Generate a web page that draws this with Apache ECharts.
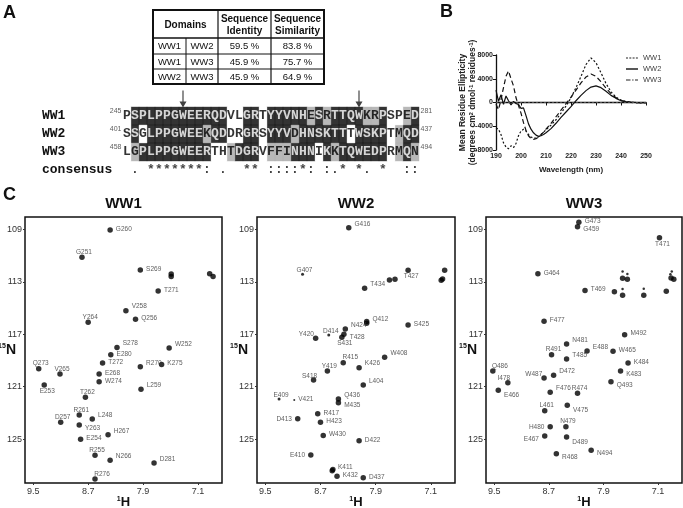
<!DOCTYPE html>
<html>
<head>
<meta charset="utf-8">
<script src="https://cdn.jsdelivr.net/npm/echarts@6/dist/echarts.min.js"></script>
<style>
  html, body { margin: 0; padding: 0; background: #fff; }
  #chart { width: 683px; height: 508px; }
</style>
</head>
<body>
<div id="chart"></div>
<script>
const SANS = '"Liberation Sans", Arial, sans-serif';
const MONO = '"Liberation Mono", "Courier New", monospace';

// ---- panel A: identity table
const tableHead = ['Domains', 'Sequence\nIdentity', 'Sequence\nSimilarity'];
const domainPairs = [['WW1', 'WW2'], ['WW1', 'WW3'], ['WW2', 'WW3']];
const seqIdentity = ['59.5 %', '45.9 %', '45.9 %'];
const seqSimilarity = ['83.8 %', '75.7 %', '64.9 %'];

// ---- panel A: alignment
const alignNames = ['WW1', 'WW2', 'WW3'];
const alignStart = [245, 401, 458];
const alignEnd = [281, 437, 494];
const alignSeqs = [
  'PSPLPPGWEERQDVLGRTYYVNHESRTTQWKRPSPED',
  'SSGLPPGWEEKQDDRGRSYYVDHNSKTTTWSKPTMQD',
  'LGPLPPGWEERTHTDGRVFFINHNIKKTQWEDPRMQN',
];
// i = identical, s = similar, - = neither
const alignClass = [
  '-iiiiiiiii' + 'iii--ii-ii' + 'iiisisiiii' + 'ssi--si',
  '-i-iiiiiii' + 'sii--ii-ii' + 'isiiiiii-i' + 'iii-sii',
  '-siiiiiiii' + 'i--siii-ss' + 'siii-isiii' + 'iii-sis',
];
const consensus = ' . *******: .  ** ::::*: :.* *. *  ::';
const arrowCols = [7, 29];

// ---- panel B: CD spectra
const wavelength = [190, 191, 192, 193, 194, 195, 196, 197, 198, 199, 200, 201, 202, 203, 204, 205, 206, 207, 208, 209, 210,
  212, 214, 216, 218, 220, 222, 224, 226, 228, 230, 232, 234, 236, 238, 240, 242, 244, 246, 248, 250];
const cdWW1 = [-4300, -4500, -5400, -6800, -7500, -7800, -7300, -7600, -6900, -5600, -4800, -4500, -4800, -5400, -5800, -6000, -6000, -5800, -5400, -5000, -4600,
  -3800, -2900, -1800, -600, 800, 2500, 4400, 6400, 7500, 6700, 5000, 3200, 1800, 900, 400, 150, 50, 0, -50, 0];
const cdWW2 = [2100, 200, 1300, -300, 1100, 300, -400, 200, -200, -300, -1000, -900, -2200, -3600, -4500, -5100, -5500, -5700, -5600, -5400, -5100,
  -4400, -3500, -2500, -1600, -700, 300, 1200, 2000, 2600, 2800, 2500, 1900, 1200, 700, 300, 150, 50, 0, -50, 0];
const cdWW3 = [-300, -1200, 500, 2500, 4400, 5300, 4000, 2800, 800, -500, -1800, -3400, -4700, -5600, -6100, -6200, -6100, -5800, -5400, -5000, -4500,
  -3500, -2400, -1300, -200, 900, 2100, 3300, 4300, 4800, 4400, 3500, 2400, 1500, 800, 350, 100, 0, -50, 0, -50];

// ---- panel C: HSQC peaks [name, 1H ppm, 15N ppm]
const hTicks = [9.5, 8.7, 7.9, 7.1];
const nTicks = [109, 113, 117, 121, 125];
const ww1Peaks = [
  ['G260', 8.38, 109.04], ['G251', 8.79, 111.13], ['S269', 7.94, 112.10],
  ['', 7.49, 112.40], ['', 7.49, 112.60], ['', 6.93, 112.38], ['', 6.88, 112.60],
  ['T271', 7.68, 113.70], ['V258', 8.15, 115.20], ['Q256', 8.01, 115.86], ['Y264', 8.70, 116.09],
  ['S278', 8.28, 118.00], ['W252', 7.52, 118.05], ['E280', 8.37, 118.56], ['T272', 8.49, 119.20],
  ['Q273', 9.42, 119.63], ['V265', 9.11, 120.04], ['R270', 7.94, 119.48], ['K275', 7.63, 119.30],
  ['E268', 8.54, 120.04], ['W274', 8.54, 120.62], ['E253', 9.34, 120.87], ['L259', 7.93, 121.20],
  ['T262', 8.74, 121.81], ['R261', 8.83, 123.17], ['L248', 8.64, 123.47], ['D257', 9.10, 123.72],
  ['Y263', 8.83, 123.93], ['H267', 8.41, 124.67], ['E254', 8.81, 125.02], ['R255', 8.60, 126.24],
  ['N266', 8.38, 126.62], ['D281', 7.74, 126.83], ['R276', 8.60, 128.05],
];
const ww2Peaks = [
  ['G416', 8.29, 108.87], ['G407', 8.96, 112.42], ['T434', 8.06, 113.49],
  ['', 7.70, 112.86], ['', 7.62, 112.80], ['T427', 7.43, 112.12],
  ['', 6.90, 112.12], ['', 6.95, 112.88], ['', 6.93, 112.78],
  ['Q412', 8.03, 116.16], ['', 8.03, 116.02], ['S425', 7.43, 116.29], ['N424', 8.34, 116.60],
  ['D414', 8.58, 117.06], ['T428', 8.36, 117.00], ['S431', 8.39, 117.23], ['Y420', 8.77, 117.31],
  ['W408', 7.77, 118.76], ['R415', 8.37, 119.17], ['K426', 8.14, 119.55], ['Y419', 8.60, 119.81],
  ['S418', 8.80, 120.49], ['L404', 8.08, 120.87], ['E409', 9.30, 121.94], ['V421', 9.08, 122.02],
  ['Q436', 8.44, 121.94], ['M435', 8.44, 122.22], ['R417', 8.74, 123.07], ['D413', 9.03, 123.45],
  ['H423', 8.70, 123.72], ['W430', 8.66, 124.72], ['D422', 8.14, 125.13], ['E410', 8.84, 126.22],
  ['K411', 8.53, 127.42], ['', 8.52, 127.32], ['K432', 8.46, 127.84], ['D437', 8.08, 127.95],
];
const ww3Peaks = [
  ['G473', 8.26, 108.45], ['G459', 8.28, 108.79], ['T471', 7.08, 109.63],
  ['G464', 8.86, 112.38], ['T469', 8.17, 113.65],
  ['', 7.74, 113.75], ['', 7.62, 112.73], ['', 7.55, 112.80], ['', 7.62, 114.03],
  ['', 7.31, 114.03], ['', 6.98, 113.72], ['', 6.91, 112.71], ['', 6.87, 112.80],
  ['F477', 8.77, 116.01], ['M492', 7.59, 117.03], ['N481', 8.44, 117.74], ['R491', 8.66, 118.56],
  ['E488', 8.14, 118.28], ['W465', 7.76, 118.30], ['T485', 8.44, 118.89], ['K484', 7.54, 119.20],
  ['Q486', 9.52, 119.81], ['K483', 7.65, 119.81], ['W487', 8.77, 120.34], ['D472', 8.63, 120.13],
  ['I478', 9.30, 120.70], ['Q493', 7.79, 120.62], ['E466', 9.44, 121.28], ['F476', 8.68, 121.43],
  ['R474', 8.28, 121.51], ['L461', 8.76, 122.84], ['V475', 8.43, 122.42], ['N479', 8.45, 124.06],
  ['H480', 8.68, 124.06], ['E467', 8.76, 124.77], ['D489', 8.44, 124.84], ['N494', 8.08, 125.86],
  ['R468', 8.59, 126.12],
];
const ww3Weak = [[7.62, 112.20], [7.55, 112.40], [7.62, 113.55], [7.31, 113.52], [6.90, 112.20], [6.92, 112.42]];
const weakPeaks = ['G407', 'D414', 'E409', 'V421'];

// label placement per residue (style only)
const labelPlace = {
  G260: 'r', G251: 'a', S269: 'r', T271: 'r', V258: 'ra', Q256: 'r', Y264: 'a', S278: 'ra', W252: 'ra',
  E280: 'r', T272: 'r', Q273: 'a', V265: 'a', R270: 'ra', K275: 'r', E268: 'r', W274: 'r', E253: 'b',
  L259: 'ra', T262: 'a', R261: 'a', L248: 'ra', D257: 'a', Y263: 'rb', H267: 'ra', E254: 'r', R255: 'a',
  N266: 'ra', D281: 'ra', R276: 'ar',
  G416: 'ra', G407: 'a', T434: 'ra', T427: 'b', Q412: 'ra', S425: 'r', N424: 'ra', D414: 'a', T428: 'rb',
  S431: 'b', Y420: 'la', W408: 'ra', R415: 'ar', K426: 'ra', Y419: 'a', S418: 'al', L404: 'ra', E409: 'a',
  V421: 'r', Q436: 'ra', M435: 'rb', R417: 'r', D413: 'l', H423: 'r', W430: 'r', D422: 'r', E410: 'l',
  K411: 'ra', K432: 'r', D437: 'r',
  G473: 'r', G459: 'rb', T471: 'b', G464: 'r', T469: 'r', F477: 'r', M492: 'r', N481: 'ra', R491: 'a',
  E488: 'ra', W465: 'r', T485: 'ra', K484: 'r', Q486: 'ar', K483: 'rb', W487: 'la', D472: 'ra', I478: 'al',
  Q493: 'rb', E466: 'rbb', F476: 'ra', R474: 'a', L461: 'a', V475: 'rbb', N479: 'a', H480: 'l', E467: 'lb',
  D489: 'rbb', N494: 'rb', R468: 'rb',
};
const placeOpts = {
  r: { position: 'right', distance: 3, offset: [0, -1] },
  ra: { position: 'right', distance: 3, offset: [0, -4] },
  rb: { position: 'right', distance: 3, offset: [0, 3] },
  rbb: { position: 'right', distance: 3, offset: [0, 5] },
  a: { position: 'top', distance: 0, offset: [2, 1] },
  ar: { position: 'top', distance: 0, offset: [7, 1] },
  al: { position: 'top', distance: 0, offset: [-4, 2] },
  b: { position: 'bottom', distance: 0, offset: [3, 0] },
  l: { position: 'left', distance: 3, offset: [0, 0] },
  la: { position: 'left', distance: 1, offset: [2, -4] },
  lb: { position: 'left', distance: 3, offset: [0, 3] },
};
const peakLabelText = { color: '#333', fontSize: 6.5, fontFamily: SANS };

const chart = echarts.init(document.getElementById('chart'));

// alignment cells grouped by conservation class
function cellsOf(cls) {
  const out = [];
  alignSeqs.forEach((seq, r) => {
    for (let k = 0; k < seq.length; k++) {
      if (alignClass[r][k] === cls) out.push({ value: [k, alignNames[r]], name: seq[k] });
    }
  });
  return out;
}
const cellStyle = {
  i: { fill: '#000', text: '#fff' },
  s: { fill: '#a6a6a6', text: '#000' },
  '-': { fill: '#fff', text: '#000' },
};
const cellSeries = Object.keys(cellStyle).map((cls) => ({
  name: 'cells-' + cls,
  type: 'scatter',
  xAxisIndex: 0,
  yAxisIndex: 0,
  symbol: 'rect',
  symbolSize: [8.4, 18.4],
  itemStyle: { color: cellStyle[cls].fill },
  label: {
    show: true, position: 'inside', formatter: '{b}', color: cellStyle[cls].text,
    fontFamily: MONO, fontWeight: 'bold', fontSize: 13,
  },
  silent: true,
  data: cellsOf(cls),
}));

const consensusData = [];
for (let k = 0; k < consensus.length; k++) {
  if (consensus[k] !== ' ') consensusData.push({ value: [k, 'consensus'], name: consensus[k] });
}

function peakSeries(peaks, idx, extraSmall) {
  const data = peaks.map(([name, h, n]) => {
    const item = { value: [h, n], name };
    if (weakPeaks.includes(name)) item.symbolSize = name === 'V421' ? 2 : 3;
    if (name && labelPlace[name]) item.label = Object.assign({ show: true, formatter: '{b}' }, peakLabelText, placeOpts[labelPlace[name]]);
    else item.label = { show: false };
    return item;
  });
  (extraSmall || []).forEach(([h, n]) => data.push({ value: [h, n], name: '', symbolSize: 2.5, label: { show: false } }));
  return {
    name: 'hsqc-' + idx,
    type: 'scatter',
    xAxisIndex: idx + 2,
    yAxisIndex: idx + 2,
    symbolSize: 5.5,
    itemStyle: { color: '#000' },
    label: Object.assign({ formatter: '{b}' }, peakLabelText),
    silent: true,
    data,
  };
}

const hsqcGrids = [
  { left: 25, top: 217, width: 197, height: 266 },
  { left: 257, top: 217, width: 198, height: 266 },
  { left: 486, top: 217, width: 196, height: 266 },
];

const hsqcX = hsqcGrids.map((g, i) => ({
  type: 'value', gridIndex: i + 2, inverse: true, min: 6.75, max: 9.62,
  axisLine: { show: false }, splitLine: { show: false },
  axisTick: { show: true, length: 2, customValues: hTicks, lineStyle: { color: '#333' } },
  axisLabel: { customValues: hTicks, formatter: (v) => v.toFixed(1), fontSize: 9, color: '#333', fontFamily: SANS, margin: 4 },
  name: '{s|1}{h|H}', nameLocation: 'middle', nameGap: 13, nameMoveOverlap: false,
  nameTextStyle: {
    rich: {
      s: { fontSize: 7, fontWeight: 'bold', fontFamily: SANS, color: '#111', padding: [0, 0, 6, 0] },
      h: { fontSize: 13, fontWeight: 'bold', fontFamily: SANS, color: '#111' },
    },
  },
}));
const hsqcY = hsqcGrids.map((g, i) => ({
  type: 'value', gridIndex: i + 2, inverse: true, min: 108.05, max: 128.35,
  axisLine: { show: false }, splitLine: { show: false },
  axisTick: { show: true, length: 2, customValues: nTicks, lineStyle: { color: '#333' } },
  axisLabel: { customValues: nTicks, fontSize: 9, color: '#333', fontFamily: SANS, margin: 3 },
  name: '{s|15}{h|N}', nameLocation: 'middle', nameRotate: 0, nameGap: 9, nameMoveOverlap: false,
  nameTextStyle: {
    rich: {
      s: { fontSize: 7, fontWeight: 'bold', fontFamily: SANS, color: '#111', padding: [0, 0, 7, 0] },
      h: { fontSize: 14, fontWeight: 'bold', fontFamily: SANS, color: '#111' },
    },
  },
}));

// table drawn as graphic elements
const tx = [153, 186, 218, 271, 324];
const ty = [10, 38, 54, 69, 84];
const tableGraphics = [
  { type: 'rect', shape: { x: tx[0], y: ty[0], width: tx[4] - tx[0], height: ty[4] - ty[0] }, style: { fill: 'none', stroke: '#111', lineWidth: 2 } },
];
[1, 2, 3].forEach((r) => tableGraphics.push({ type: 'line', shape: { x1: tx[0], y1: ty[r], x2: tx[4], y2: ty[r] }, style: { stroke: '#111', lineWidth: r === 1 ? 1.5 : 1 } }));
[2, 3].forEach((c) => tableGraphics.push({ type: 'line', shape: { x1: tx[c], y1: ty[0], x2: tx[c], y2: ty[4] }, style: { stroke: '#111', lineWidth: 1.2 } }));
tableGraphics.push({ type: 'line', shape: { x1: tx[1], y1: ty[1], x2: tx[1], y2: ty[4] }, style: { stroke: '#111', lineWidth: 1 } });
const headX = [(tx[0] + tx[2]) / 2, (tx[2] + tx[3]) / 2, (tx[3] + tx[4]) / 2];
tableHead.forEach((t, i) => tableGraphics.push({
  type: 'text', style: { text: t, x: headX[i], y: (ty[0] + ty[1]) / 2 + 1, align: 'center', verticalAlign: 'middle', fill: '#111', font: 'bold 10px ' + SANS, lineHeight: 12 },
}));
domainPairs.forEach((pair, r) => {
  const yMid = (ty[r + 1] + ty[r + 2]) / 2 + 0.5;
  const cells = [pair[0], pair[1], seqIdentity[r], seqSimilarity[r]];
  cells.forEach((t, c) => tableGraphics.push({
    type: 'text', style: { text: t, x: (tx[c] + tx[c + 1]) / 2, y: yMid, align: 'center', verticalAlign: 'middle', fill: '#111', font: '9.5px ' + SANS },
  }));
});

const letters = [['A', 3, 4], ['B', 440, 3], ['C', 3, 186]].map(([t, x, y]) => ({
  type: 'text', style: { text: t, x, y, fill: '#111', font: 'bold 18px ' + SANS },
}));
const panelTitles = ['WW1', 'WW2', 'WW3'].map((t, i) => ({
  type: 'text', style: { text: t, x: hsqcGrids[i].left + hsqcGrids[i].width / 2, y: 204, align: 'center', verticalAlign: 'middle', fill: '#111', font: 'bold 15px ' + SANS },
}));

const cdLine = (name, vals, type) => ({
  name, type: 'line', xAxisIndex: 1, yAxisIndex: 1, symbol: 'none', smooth: false,
  lineStyle: { color: '#111', width: 1.2, type },
  itemStyle: { color: '#111' },
  data: wavelength.map((w, i) => [w, vals[i]]),
});
const ww1Line = cdLine('WW1', cdWW1, [2, 2]);
ww1Line.markLine = {
  silent: true, symbol: 'none', label: { show: false },
  lineStyle: { color: '#666', type: [2, 2], width: 0.7 },
  data: [{ yAxis: 0 }],
};

// legend icons mimic each line's dash pattern (corner points fix the icon box)
const legendIcons = {
  WW1: 'path://M0,0L0.01,0Z M12,10L12.01,10Z M0,4.4h2v1.2h-2z M3.3,4.4h2v1.2h-2z M6.6,4.4h2v1.2h-2z M9.9,4.4h2v1.2h-2z',
  WW2: 'path://M0,0L0.01,0Z M12,10L12.01,10Z M0,4.3h12v1.4h-12z',
  WW3: 'path://M0,0L0.01,0Z M12,10L12.01,10Z M0,4.4h4.5v1.2h-4.5z M6.2,4.4h1.3v1.2h-1.3z M9,4.4h3v1.2h-3z',
};

const gridBase = { outerBoundsMode: 'none', containLabel: false };

const option = {
  animation: false,
  backgroundColor: '#fff',
  textStyle: { fontFamily: SANS },
  graphic: [...tableGraphics, ...letters, ...panelTitles],
  legend: {
    data: ['WW1', 'WW2', 'WW3'].map((n) => ({ name: n, icon: legendIcons[n] })),
    orient: 'vertical', left: 621, top: 48,
    itemWidth: 12, itemHeight: 10, itemGap: 1,
    itemStyle: { color: '#222', borderWidth: 0 },
    textStyle: { color: '#444', fontSize: 7.5, fontFamily: SANS },
  },
  grid: [
    Object.assign({ left: 123, top: 89, width: 296, height: 90 }, gridBase),
    Object.assign({ left: 496, top: 55, width: 150, height: 95 }, gridBase),
    ...hsqcGrids.map((g) => Object.assign({ show: true, borderColor: '#111', borderWidth: 1.5, backgroundColor: 'transparent' }, gridBase, g)),
  ],
  xAxis: [
    { type: 'category', gridIndex: 0, data: alignSeqs[0].split('').map((_, k) => k), show: false },
    {
      type: 'value', gridIndex: 1, min: 190, max: 250, interval: 10,
      axisLine: { lineStyle: { color: '#111', width: 1.3 } },
      axisTick: { length: 3, lineStyle: { color: '#111' } },
      splitLine: { show: false },
      axisLabel: { fontSize: 7, fontWeight: 'bold', color: '#222', margin: 3 },
      name: 'Wavelength (nm)', nameLocation: 'middle', nameGap: 16, nameMoveOverlap: false,
      nameTextStyle: { fontSize: 8, fontWeight: 'bold', color: '#222' },
    },
    ...hsqcX,
  ],
  yAxis: [
    {
      type: 'category', gridIndex: 0, inverse: true, data: [' ', 'WW1', 'WW2', 'WW3', 'consensus'],
      axisLine: { show: false }, axisTick: { show: false },
      axisLabel: { align: 'left', margin: 81, fontFamily: MONO, fontWeight: 'bold', fontSize: 13, color: '#111' },
    },
    {
      type: 'value', gridIndex: 1, min: -8000, max: 8000, interval: 4000,
      axisLine: { show: true, lineStyle: { color: '#111', width: 1.3 } },
      axisTick: { show: true, length: 3, lineStyle: { color: '#111' } },
      splitLine: { show: false },
      axisLabel: { fontSize: 7, fontWeight: 'bold', color: '#222', margin: 3, formatter: (v) => String(v) },
      name: 'Mean Residue Ellipticity\n(degrees cm{sup|2} dmol{sup|-1} residues{sup|-1})',
      nameLocation: 'middle', nameGap: 18, nameMoveOverlap: false,
      nameTextStyle: {
        fontSize: 8.5, fontWeight: 'bold', color: '#222', lineHeight: 10,
        rich: { sup: { fontSize: 5.5, fontWeight: 'bold', color: '#222', padding: [0, 0, 4, 0] } },
      },
    },
    ...hsqcY,
  ],
  series: [
    ...cellSeries,
    {
      name: 'consensus', type: 'scatter', xAxisIndex: 0, yAxisIndex: 0, symbolSize: 1,
      itemStyle: { color: 'rgba(0,0,0,0)' }, silent: true,
      label: { show: true, position: 'inside', formatter: '{b}', color: '#111', fontFamily: MONO, fontWeight: 'bold', fontSize: 13 },
      data: consensusData,
    },
    {
      name: 'start', type: 'scatter', xAxisIndex: 0, yAxisIndex: 0, symbolSize: 1,
      itemStyle: { color: 'rgba(0,0,0,0)' }, silent: true,
      label: { show: true, position: 'left', distance: 5, offset: [0, -5], formatter: '{b}', color: '#333', fontSize: 7 },
      data: alignNames.map((r, i) => ({ value: [0, r], name: String(alignStart[i]) })),
    },
    {
      name: 'end', type: 'scatter', xAxisIndex: 0, yAxisIndex: 0, symbolSize: 1,
      itemStyle: { color: 'rgba(0,0,0,0)' }, silent: true,
      label: { show: true, position: 'right', distance: 5, offset: [0, -5], formatter: '{b}', color: '#333', fontSize: 7 },
      data: alignNames.map((r, i) => ({ value: [alignSeqs[i].length - 1, r], name: String(alignEnd[i]) })),
    },
    {
      name: 'arrows', type: 'scatter', xAxisIndex: 0, yAxisIndex: 0,
      symbol: 'path://M3.5,0 H4.5 V11 H7 L4,17 L1,11 H3.5 Z', symbolSize: [7, 17], symbolOffset: [0, 1],
      itemStyle: { color: '#111' }, silent: true,
      data: arrowCols.map((k) => [k, ' ']),
    },
    ww1Line,
    cdLine('WW2', cdWW2, 'solid'),
    cdLine('WW3', cdWW3, [5, 3]),
    peakSeries(ww1Peaks, 0),
    peakSeries(ww2Peaks, 1),
    peakSeries(ww3Peaks, 2, ww3Weak),
  ],
};

chart.setOption(option);
</script>
</body>
</html>
